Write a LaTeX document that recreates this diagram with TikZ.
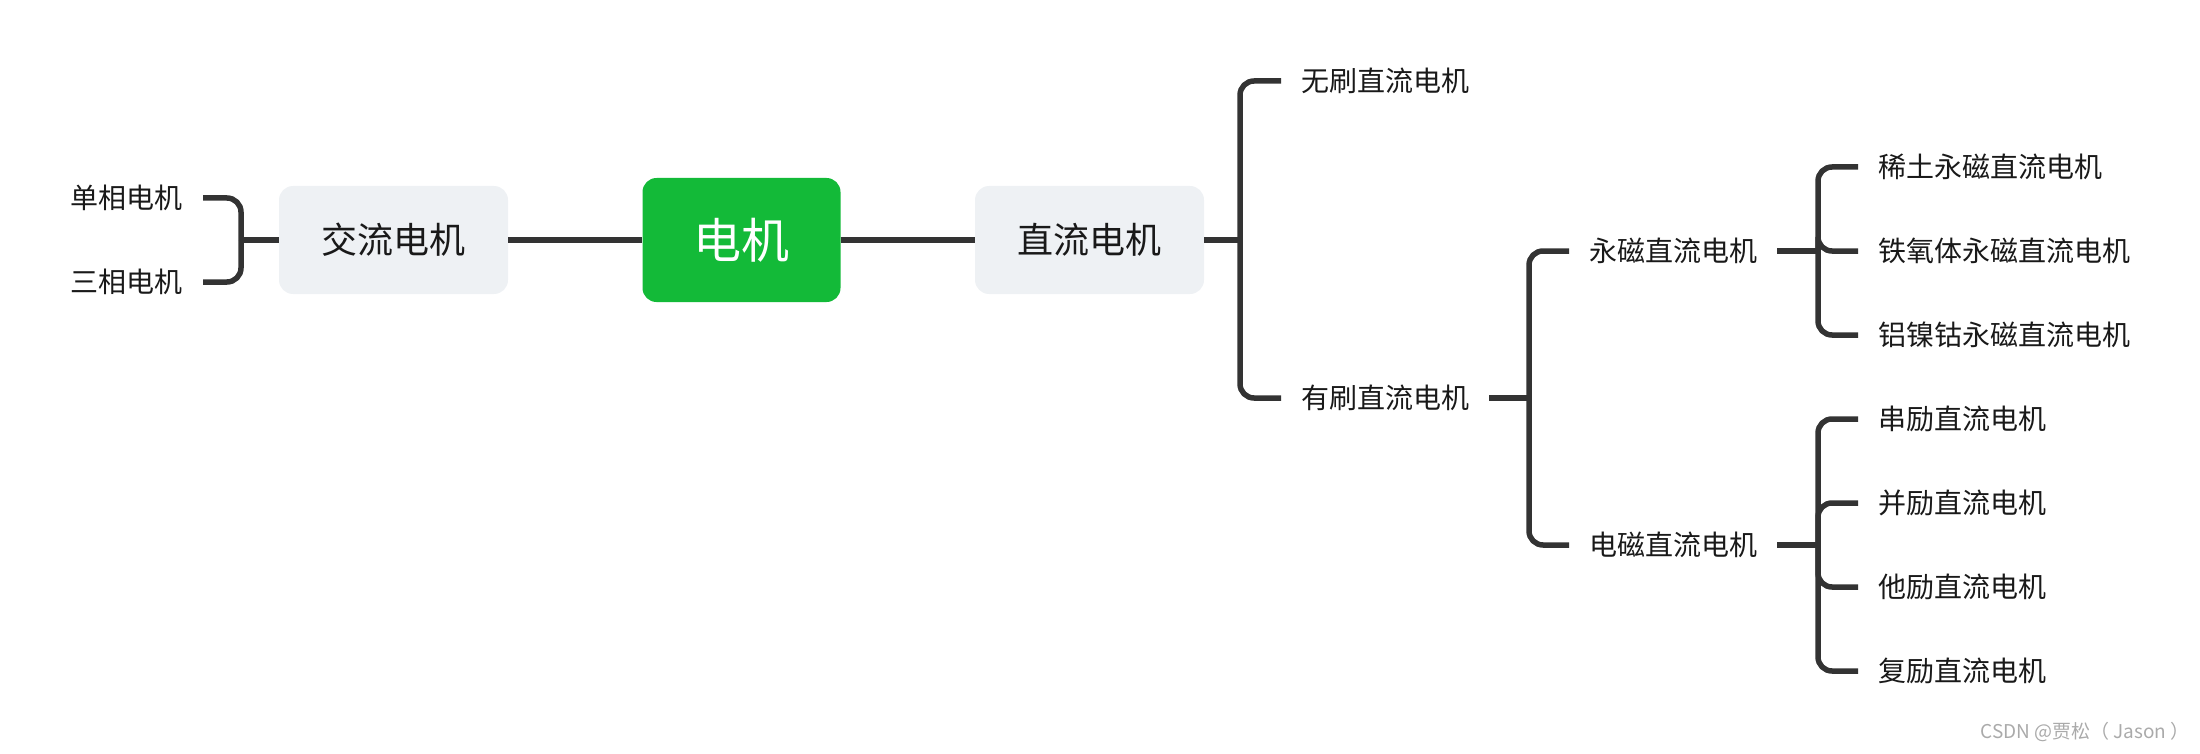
\documentclass[tikz,border=0pt]{standalone}
\usepackage{fontspec}
\setmainfont{Noto Sans CJK SC}
\newfontfamily\cjk{Noto Sans CJK SC}
\definecolor{mgreen}{RGB}{19,186,56}
\definecolor{mgray}{RGB}{238,241,244}
\definecolor{mline}{RGB}{51,51,51}
\definecolor{wmark}{RGB}{170,170,170}
\begin{document}
\begin{tikzpicture}[x=1pt,y=-1pt,
  conn/.style={draw=mline,line width=5.5pt,rounded corners=14pt},
  rootbox/.style={fill=mgreen,rounded corners=14pt,minimum width=198pt,minimum height=124pt,inner sep=0pt,text=white,font=\cjk\fontsize{48}{56}\selectfont},
  subbox/.style={fill=mgray,rounded corners=14pt,minimum width=229pt,minimum height=108pt,inner sep=0pt,text=black!90,font=\cjk\fontsize{36}{42}\selectfont},
  leaf/.style={inner xsep=20pt,inner ysep=2pt,text=black!90,font=\cjk\fontsize{28}{34}\selectfont}
]
\useasboundingbox (0,0) rectangle (2200,754);
% main nodes
\node[rootbox] (root) at (741.5,240) {电机};
\node[subbox] (ac) at (393.5,240) {交流电机};
\node[subbox] (dc) at (1089.5,240) {直流电机};
% AC leaves
\node[leaf,anchor=east] (ac1) at (203,198) {单相电机};
\node[leaf,anchor=east] (ac2) at (203,282) {三相电机};
% DC leaves
\node[leaf,anchor=west] (dc1) at (1281,81) {无刷直流电机};
\node[leaf,anchor=west] (dc2) at (1281,398) {有刷直流电机};
\node[leaf,anchor=west] (pm) at (1569,251) {永磁直流电机};
\node[leaf,anchor=west] (em) at (1569,545) {电磁直流电机};
\node[leaf,anchor=west] (pm1) at (1858,167) {稀土永磁直流电机};
\node[leaf,anchor=west] (pm2) at (1858,251) {铁氧体永磁直流电机};
\node[leaf,anchor=west] (pm3) at (1858,335) {铝镍钴永磁直流电机};
\node[leaf,anchor=west] (em1) at (1858,419) {串励直流电机};
\node[leaf,anchor=west] (em2) at (1858,503) {并励直流电机};
\node[leaf,anchor=west] (em3) at (1858,587) {他励直流电机};
\node[leaf,anchor=west] (em4) at (1858,671) {复励直流电机};
% junctions
\coordinate (jac) at (241,240);
\coordinate (jdc) at (1240,240);
\coordinate (jdc2) at (1529,398);
\coordinate (jpm) at (1818,251);
\coordinate (jem) at (1818,545);
% connectors
\draw[conn] (ac.east) -- (root.west);
\draw[conn] (root.east) -- (dc.west);
\draw[conn] (ac.west) -- (jac);
\draw[conn] (jac) |- (ac1.east);
\draw[conn] (jac) |- (ac2.east);
\draw[conn] (dc.east) -- (jdc);
\draw[conn] (jdc) |- (dc1.west);
\draw[conn] (jdc) |- (dc2.west);
\draw[conn] (dc2.east) -- (jdc2);
\draw[conn] (jdc2) |- (pm.west);
\draw[conn] (jdc2) |- (em.west);
\draw[conn] (pm.east) -- (jpm);
\draw[conn] (jpm) |- (pm1.west);
\draw[conn] (jpm) |- (pm2.west);
\draw[conn] (jpm) |- (pm3.west);
\draw[conn] (em.east) -- (jem);
\draw[conn] (jem) |- (em1.west);
\draw[conn] (jem) |- (em2.west);
\draw[conn] (jem) |- (em3.west);
\draw[conn] (jem) |- (em4.west);
% watermark
\node[anchor=east,inner sep=0pt,text=wmark,font=\cjk\fontsize{19}{22}\selectfont] (wm) at (2190,732) {CSDN @贾松（ Jason ）};
\end{tikzpicture}
\end{document}
